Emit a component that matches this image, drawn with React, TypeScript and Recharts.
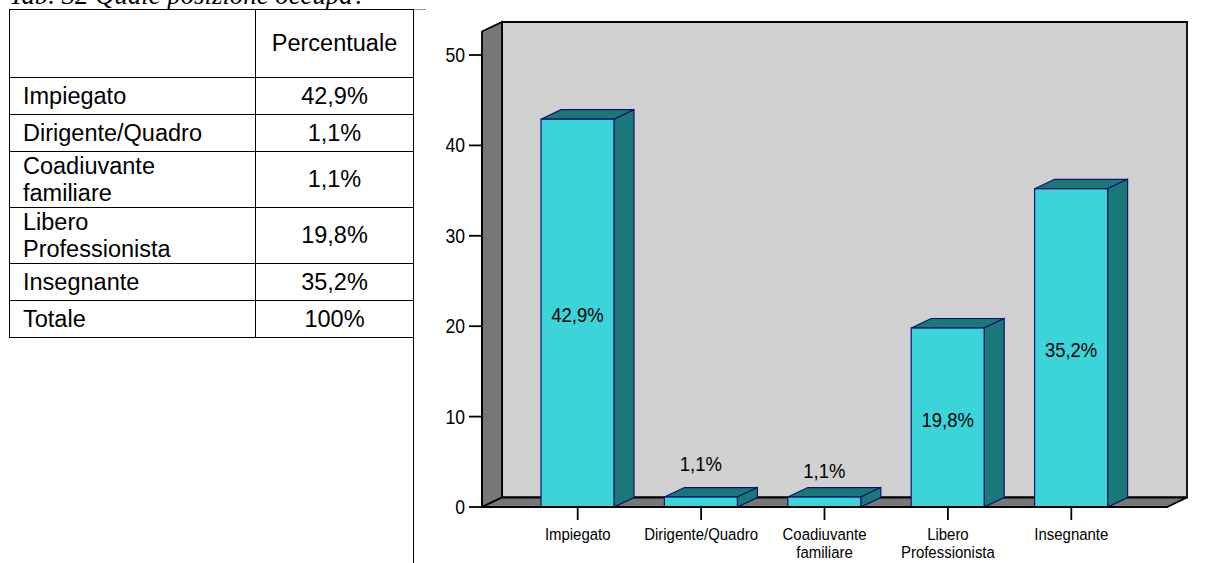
import { BarChart, Bar, XAxis, YAxis, ReferenceArea, LabelList } from "recharts";

const categories = ["Impiegato", "Dirigente/Quadro", "Coadiuvante familiare", "Libero Professionista", "Insegnante"];
const values = [42.9, 1.1, 1.1, 19.8, 35.2];
const valueLabels = ["42,9%", "1,1%", "1,1%", "19,8%", "35,2%"];
const yTicks = [0, 10, 20, 30, 40, 50];

const tableHeader = "Percentuale";
const tableRows = [
  ["Impiegato", "42,9%"],
  ["Dirigente/Quadro", "1,1%"],
  ["Coadiuvante\nfamiliare", "1,1%"],
  ["Libero\nProfessionista", "19,8%"],
  ["Insegnante", "35,2%"],
  ["Totale", "100%"],
];
const rowHeights = [37, 37, 56, 56, 37, 37];

const chartData = categories.map((name, i) => ({ name, value: values[i], label: valueLabels[i] }));

// depth of the fake 3D box
const DX = 20;
const DY = 9.5;
// gap between the plot edge and the first/last band
const PAD = 34;
const FONT = "'Liberation Sans', Arial, sans-serif";
const LINE = 1.8;

// eslint-disable-next-line @typescript-eslint/no-explicit-any
function Walls({ x, y, width, height }: any) {
  const left = x - PAD;
  const right = x + width + PAD;
  const bottom = y + height;
  const top = y - 33;
  return (
    <g>
      <polygon points={`${left + DX},${top} ${right + DX},${top} ${right + DX},${bottom - DY} ${left + DX},${bottom - DY}`} fill="#d0d0d0" stroke="#000" strokeWidth={LINE} />
      <polygon points={`${left},${top + DY} ${left + DX},${top} ${left + DX},${bottom - DY} ${left},${bottom}`} fill="#777777" stroke="#000" strokeWidth={LINE} />
      <polygon points={`${left},${bottom} ${left + DX},${bottom - DY} ${right + DX},${bottom - DY} ${right},${bottom}`} fill="#777777" stroke="#000" strokeWidth={LINE} />
    </g>
  );
}

// eslint-disable-next-line @typescript-eslint/no-explicit-any
function Box({ x, y, width, height }: any) {
  const s = "#101070";
  return (
    <g stroke={s} strokeWidth={1.2}>
      <polygon points={`${x},${y} ${x + DX},${y - DY} ${x + width + DX},${y - DY} ${x + width},${y}`} fill="#1a7878" />
      <polygon points={`${x + width},${y} ${x + width + DX},${y - DY} ${x + width + DX},${y + height - DY} ${x + width},${y + height}`} fill="#1a7878" />
      <rect x={x} y={y} width={width} height={height} fill="#3bd4d9" />
    </g>
  );
}

// eslint-disable-next-line @typescript-eslint/no-explicit-any
function CategoryTick({ x, y, payload }: any) {
  const words = String(payload.value).split(" ");
  return (
    <text transform={`translate(${x},${y}) scale(0.88,1)`} textAnchor="middle" fontFamily={FONT} fontSize={17} fill="#000">
      {words.map((w: string, i: number) => (
        <tspan key={i} x={0} y={18 + i * 18}>{w}</tspan>
      ))}
    </text>
  );
}

// eslint-disable-next-line @typescript-eslint/no-explicit-any
function ValueTick({ x, y, payload }: any) {
  return (
    <text transform={`translate(${x - 2},${y}) scale(0.88,1)`} textAnchor="end" dy={7} fontFamily={FONT} fontSize={20} fill="#000">
      {payload.value}
    </text>
  );
}

// small bars carry their label above the box, the others in the middle
const labelLift = [0, 40, 33, 0, 0];

// eslint-disable-next-line @typescript-eslint/no-explicit-any
function ValueLabel({ x, y, width, height, value, index }: any) {
  const cx = x + width / 2;
  const cy = y + height / 2 + 9 - labelLift[index];
  return (
    <text transform={`translate(${cx},${cy}) scale(0.88,1)`} textAnchor="middle" fontFamily={FONT} fontSize={21} fill="#000">
      {value}
    </text>
  );
}

export default function App() {
  const cell: React.CSSProperties = { border: "1px solid #000", padding: "0 0 0 13px", boxSizing: "border-box", lineHeight: "26.5px", whiteSpace: "pre-line" };
  const numCell: React.CSSProperties = { ...cell, padding: 0, textAlign: "center" };
  return (
    <div style={{ position: "absolute", left: 0, top: 0, width: 1205, height: 563, overflow: "hidden", background: "#fff" }}>
      <div style={{ position: "absolute", left: 9, top: -20, fontFamily: "'Liberation Serif', serif", fontStyle: "italic", fontSize: 26.8, whiteSpace: "nowrap" }}>
        Tab. 32 Quale posizione occupa?
      </div>
      <div style={{ position: "absolute", left: 9, top: 9, width: 417, height: 1, background: "#999" }} />
      <div style={{ position: "absolute", left: 413, top: 9, width: 1, height: 554, background: "#000" }} />
      <table style={{ position: "absolute", left: 9, top: 9, width: 405, borderCollapse: "collapse", tableLayout: "fixed", fontFamily: FONT, fontSize: 23.5, color: "#000" }}>
        <colgroup>
          <col style={{ width: 246 }} />
          <col style={{ width: 158 }} />
        </colgroup>
        <tbody>
          <tr style={{ height: 68 }}>
            <td style={cell}></td>
            <td style={numCell}>{tableHeader}</td>
          </tr>
          {tableRows.map((row, i) => (
            <tr key={row[0]} style={{ height: rowHeights[i] }}>
              <td style={cell}>{row[0]}</td>
              <td style={numCell}>{row[1]}</td>
            </tr>
          ))}
        </tbody>
      </table>
      <div style={{ position: "absolute", left: 0, top: 0 }}>
        <BarChart width={1205} height={563} data={chartData} margin={{ top: 55, right: 38, bottom: 0, left: 442 }} barSize={73} style={{ background: "transparent" }}>
          <YAxis type="number" domain={[0, 50]} ticks={yTicks} width={40} axisLine={{ stroke: "#000", strokeWidth: LINE }} tickLine={{ stroke: "#000", strokeWidth: LINE }} tickSize={13} tick={<ValueTick />} interval={0} />
          <XAxis dataKey="name" interval={0} padding={{ left: PAD, right: PAD }} axisLine={{ stroke: "#000", strokeWidth: LINE }} tickLine={{ stroke: "#000", strokeWidth: LINE }} tickSize={13} tick={<CategoryTick />} height={56} />
          <ReferenceArea y1={0} y2={50} shape={<Walls />} ifOverflow="visible" />
          <Bar dataKey="value" isAnimationActive={false} shape={<Box />}>
            <LabelList dataKey="label" content={<ValueLabel />} />
          </Bar>
        </BarChart>
      </div>
    </div>
  );
}
